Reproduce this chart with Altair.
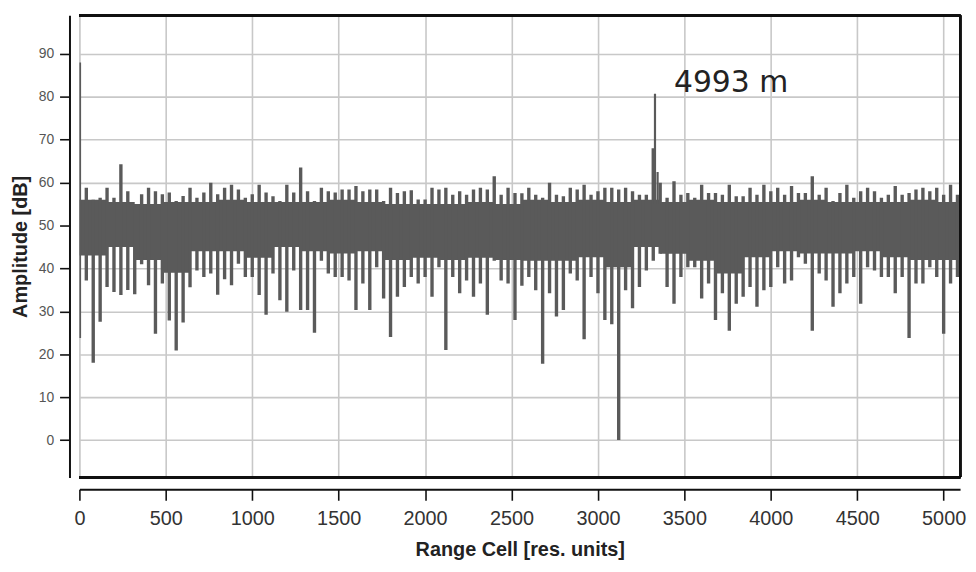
import altair as alt
import pandas as pd

# ---- data (range cells every 40 cells) ----
bin_cells = list(range(0, 5120, 40))

upper_db = [
    88.0, 58.8, 56.0, 56.5, 58.8, 56.5, 64.3, 58.0, 54.5, 57.3,
    58.8, 58.0, 57.3, 57.7, 55.7, 56.9, 58.8, 56.5, 57.7, 60.0,
    57.3, 58.8, 59.5, 58.4, 56.5, 57.3, 59.5, 57.7, 56.8, 55.7,
    59.5, 57.7, 63.5, 58.0, 55.7, 58.8, 58.0, 57.7, 58.4, 58.4,
    59.2, 58.0, 58.4, 58.4, 55.7, 58.8, 57.6, 58.0, 58.2, 56.1,
    56.1, 58.8, 58.4, 58.8, 57.2, 58.0, 57.2, 58.4, 58.8, 58.4,
    61.5, 57.2, 58.8, 57.6, 57.5, 58.8, 57.2, 56.5, 60.0, 57.2,
    56.8, 58.8, 58.4, 59.5, 57.2, 58.0, 58.8, 58.8, 58.4, 58.8,
    58.0, 57.2, 57.2, 68.0, 60.0, 56.5, 60.3, 57.2, 57.6, 56.5,
    59.5, 57.6, 57.6, 57.2, 59.5, 56.8, 56.8, 58.8, 57.2, 59.5,
    58.0, 58.8, 57.2, 59.2, 57.6, 57.6, 61.5, 57.2, 58.8, 55.7,
    57.6, 59.5, 56.5, 58.0, 58.8, 58.0, 56.5, 57.2, 59.2, 57.2,
    57.6, 58.4, 58.8, 58.0, 58.8, 57.2, 59.5, 57.2,
]

lower_db = [
    23.8, 37.2, 18.0, 27.6, 35.7, 34.5, 33.8, 35.0, 34.0, 41.0,
    36.1, 24.8, 36.5, 27.9, 20.9, 27.4, 35.6, 39.5, 38.0, 38.8,
    33.9, 37.5, 36.1, 41.1, 38.0, 38.0, 33.8, 29.2, 38.8, 32.6,
    29.9, 39.5, 30.3, 30.3, 25.0, 41.8, 38.8, 38.0, 38.0, 37.2,
    30.3, 36.5, 30.3, 40.3, 33.0, 24.0, 33.4, 35.7, 38.0, 36.5,
    38.0, 33.4, 40.3, 21.0, 38.0, 34.2, 37.2, 33.4, 36.5, 29.2,
    41.8, 37.2, 36.5, 28.0, 36.0, 38.0, 34.9, 17.8, 34.2, 28.8,
    30.3, 38.8, 37.2, 23.5, 38.0, 34.2, 28.0, 27.0, 0.0, 34.9,
    30.7, 35.7, 39.5, 41.8, 43.4, 35.7, 31.8, 38.0, 40.3, 40.3,
    33.0, 36.5, 28.0, 34.2, 25.5, 31.8, 33.4, 35.7, 31.1, 34.9,
    35.7, 40.3, 36.5, 37.2, 42.6, 41.1, 25.5, 38.8, 37.2, 31.1,
    34.2, 36.5, 38.0, 31.8, 40.3, 39.5, 38.0, 38.0, 34.2, 38.0,
    23.8, 36.5, 36.5, 40.3, 38.0, 24.8, 36.5, 38.0,
]

# dense noise core (every 160 cells)
core_cells = list(range(0, 5121, 160))
core_low = [
    43.0, 45.0, 42.0, 39.0, 44.0, 44.0, 42.5, 45.0, 44.0, 43.5,
    44.0, 42.0, 42.5, 42.0, 42.5, 42.0, 41.8, 41.8, 42.6, 40.3,
    45.0, 43.4, 41.8, 38.8, 42.6, 44.0, 43.5, 43.5, 44.0, 42.6,
    42.0, 42.0, 42.0,
]
core_high = [
    56.0, 55.5, 55.0, 55.5, 55.5, 56.0, 55.5, 55.5, 55.5, 56.0,
    55.5, 55.0, 55.0, 55.0, 55.5, 55.0, 56.0, 55.5, 56.0, 55.5,
    56.0, 55.5, 56.0, 55.5, 55.5, 55.5, 56.0, 55.5, 55.5, 55.5,
    56.0, 55.5, 55.5,
]

# target peak near 3330 cells
peak_cells = [3330, 3345]
peak_db = [80.7, 62.5]

label_text = ["4993 m"]
label_cell = [3440]
label_db = [83.2]

x_ticks = list(range(0, 5001, 500))
y_ticks = list(range(0, 91, 10))

GRAY = "#5a5a5a"
W, H = 888, 466

bins = pd.DataFrame({"cell": bin_cells, "hi": upper_db, "lo": lower_db})
core = pd.DataFrame({"cell": core_cells, "lo": core_low, "hi": core_high})
peaks = pd.DataFrame({"cell": peak_cells, "db": peak_db, "base": [55.0] * len(peak_cells)})
labels = pd.DataFrame({"cell": label_cell, "db": label_db, "t": label_text})

xs = alt.Scale(domain=[0, 5095], nice=False, zero=False)
ys = alt.Scale(domain=[-8.7, 99], nice=False, zero=False)

x_axis = alt.Axis(
    values=x_ticks, format="d", title="Range Cell [res. units]", grid=True,
    gridColor="#c8c8c8", gridWidth=1.6, domainColor="#111", domainWidth=2,
    offset=12, tickSize=11, tickColor="#111", tickWidth=1.6,
    labelFont="Liberation Sans", labelFontSize=20, labelColor="#333",
    labelPadding=8, labelFlush=False, labelOverlap=False,
    titleFont="Liberation Sans", titleFontSize=20, titleFontWeight="bold",
    titleColor="#222", titlePadding=12,
)
y_axis = alt.Axis(
    values=y_ticks, format="d", title="Amplitude [dB]", grid=True,
    gridColor="#c8c8c8", gridWidth=1.6, domainColor="#111", domainWidth=2,
    offset=10, tickSize=10, tickColor="#111", tickWidth=1.6,
    labelFont="Liberation Sans", labelFontSize=14, labelColor="#555",
    labelPadding=6, labelFlush=False, labelOverlap=False,
    titleFont="Liberation Sans", titleFontSize=20, titleFontWeight="bold",
    titleColor="#222", titlePadding=8,
)

core_layer = alt.Chart(core).mark_area(
    color=GRAY, clip=True, opacity=1, interpolate="step-after"
).encode(
    x=alt.X("cell:Q", scale=xs, axis=x_axis),
    y=alt.Y("lo:Q", scale=ys, axis=y_axis),
    y2="hi:Q",
)
rule_layer = alt.Chart(bins).mark_rule(color=GRAY, strokeWidth=3.4, clip=True).encode(
    x=alt.X("cell:Q", scale=xs), y=alt.Y("lo:Q", scale=ys), y2="hi:Q"
)
peak_layer = alt.Chart(peaks).mark_rule(color=GRAY, strokeWidth=2.2, clip=True).encode(
    x=alt.X("cell:Q", scale=xs), y=alt.Y("base:Q", scale=ys), y2="db:Q"
)
text_layer = alt.Chart(labels).mark_text(
    align="left", baseline="middle", font="DejaVu Sans", fontSize=30, color="#222"
).encode(x=alt.X("cell:Q", scale=xs), y=alt.Y("db:Q", scale=ys), text="t:N")

frame_top = alt.Chart(core).mark_rule(color="#111", strokeWidth=2).encode(
    x=alt.value(0), x2=alt.value(W), y=alt.value(0)
)
frame_right = alt.Chart(core).mark_rule(color="#111", strokeWidth=2).encode(
    x=alt.value(W), y=alt.value(0), y2=alt.value(H)
)
frame_bottom = alt.Chart(core).mark_rule(color="#111", strokeWidth=2).encode(
    x=alt.value(0), x2=alt.value(W), y=alt.value(H)
)

chart = alt.layer(
    core_layer, rule_layer, peak_layer, text_layer, frame_top, frame_right, frame_bottom
).properties(
    width=W, height=H,
    autosize=alt.AutoSizeParams(type="none"),
    padding={"left": 72, "top": 5, "right": 8, "bottom": 93},
).configure_view(stroke=None).configure(background="white")

chart.save("out.html", embed_options={"renderer": "svg", "actions": False})
